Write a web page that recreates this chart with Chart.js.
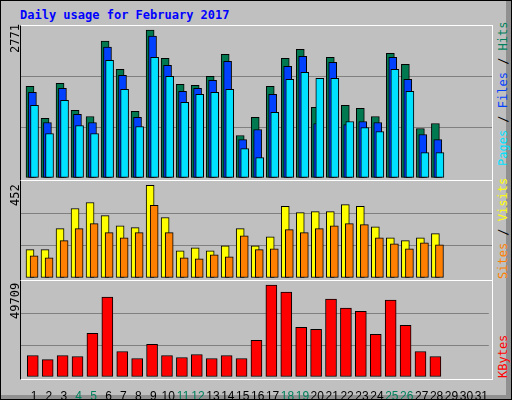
<!DOCTYPE html>
<html>
<head>
<meta charset="utf-8">
<script src="https://cdn.jsdelivr.net/npm/chart.js@4"></script>
<style>
body { margin: 0; background: #fff; }
#wrap { position: relative; width: 510px; height: 398px; background: #c0c0c0; border: 1px solid #000; overflow: hidden; font-family: "DejaVu Sans Mono", monospace; }
#shadeR { position: absolute; right: 0; top: 0; width: 5px; height: 398px; background: #909090; }
#shadeB { position: absolute; left: 0; bottom: 0; width: 510px; height: 4px; background: #909090; }
#title { position: absolute; left: 19px; top: 7px; color: #0000ff; font-weight: bold; font-size: 12px; }
canvas { position: absolute; left: 20px; }
.frame { position: absolute; left: 19px; width: 471px; border-left: 1px solid #000; border-top: 1px solid #fff; border-right: 1px solid #fff; }
.vl { position: absolute; transform: rotate(-90deg); transform-origin: left top; white-space: nowrap; font-size: 12px; }
</style>
</head>
<body>
<div id="wrap">
  <div id="shadeR"></div><div id="shadeB"></div>
  <div id="title">Daily usage for February 2017</div>
  <div class="frame" style="top:24px;height:154px"></div>
  <div class="frame" style="top:179px;height:99px"></div>
  <div class="frame" style="top:279px;height:98px;border-bottom:1px solid #fff"></div>
  <canvas id="c1" width="471" height="152" style="top:25px"></canvas>
  <canvas id="c2" width="471" height="97" style="top:180px"></canvas>
  <canvas id="c3" width="471" height="120" style="top:280px"></canvas>
  <div class="vl" style="left:7px;top:52px">2771</div>
  <div class="vl" style="left:7px;top:205px">452</div>
  <div class="vl" style="left:7px;top:318px">49709</div>
  <div class="vl" style="left:495px;top:165px"><span style="color:#00e0ff">Pages</span> / <span style="color:#0040ff">Files</span> / <span style="color:#00805c">Hits</span></div>
  <div class="vl" style="left:495px;top:278px"><span style="color:#ff8000">Sites</span> / <span style="color:#ffff00">Visits</span></div>
  <div class="vl" style="left:495px;top:377px;color:#ff0000">KBytes</div>
</div>
<script>
var days = [];
for (var d = 1; d <= 31; d++) days.push(d);
var weekendDays = [4, 5, 11, 12, 18, 19, 25, 26];

var hits = [1716, 1115, 1772, 1265, 1152, 2562, 2035, 1246, 2771, 2242, 1754, 1735, 1904, 2317, 795, 1134, 1716, 2242, 2411, 1321, 2261, 1359, 1303, 1152, 2336, 2129, 927, 1021];
var files = [1603, 1040, 1678, 1190, 1040, 2449, 1923, 1134, 2656, 2111, 1622, 1678, 1829, 2186, 720, 908, 1566, 2092, 2280, 1021, 2167, 1002, 1058, 1040, 2261, 1848, 814, 720];
var pages = [1359, 833, 1453, 983, 833, 2205, 1660, 965, 2261, 1904, 1415, 1566, 1603, 1660, 551, 382, 1228, 1848, 1979, 1866, 1866, 1058, 946, 871, 2035, 1622, 476, 476];
var visits = [138, 138, 241, 339, 368, 304, 255, 246, 452, 295, 133, 147, 133, 157, 241, 157, 201, 349, 319, 324, 324, 358, 349, 250, 196, 182, 196, 216];
var sites = [108, 98, 182, 241, 265, 221, 196, 221, 354, 221, 98, 93, 113, 103, 206, 138, 142, 236, 221, 241, 255, 265, 260, 196, 167, 142, 172, 162];
var kbytes = [11610, 9433, 11610, 11065, 23582, 43173, 13786, 9977, 17596, 11610, 10521, 12154, 9977, 11610, 9977, 19773, 49709, 45894, 26847, 25759, 42085, 37187, 35554, 23038, 41540, 27936, 13786, 11065];

var grey = '#808080';

function pts(values, shift) {
    return values.map(function (v, i) { return { x: days[i] + shift, y: v }; });
}

function ds(label, values, shift, color, order, thick) {
    return {
        label: label, data: pts(values, shift), backgroundColor: color,
        borderColor: '#000', borderWidth: 1, borderSkipped: false,
        barThickness: thick, order: order, grouped: false
    };
}

function yScale(max) {
    return {
        min: 0, max: max,
        afterBuildTicks: function (s) {
            s.ticks = [0, max / 3, 2 * max / 3, max].map(function (v) { return { value: v }; });
        },
        afterFit: function (s) { s.width = 0; },
        ticks: { display: false },
        border: { display: false },
        grid: {
            drawTicks: false, lineWidth: 1,
            color: function (c) { return (c.index === 1 || c.index === 2) ? grey : 'rgba(0,0,0,0)'; }
        }
    };
}

function xScale(showTicks) {
    return {
        type: 'linear', min: 0.13, max: 31.5, offset: false,
        display: showTicks,
        afterBuildTicks: function (s) {
            s.ticks = days.map(function (v) { return { value: v }; });
        },
        afterFit: function (s) { if (showTicks) s.height = 24; },
        border: { display: false },
        grid: { display: false },
        ticks: {
            padding: 4, autoSkip: false, maxRotation: 0,
            font: { family: 'Liberation Sans', size: 12 },
            color: function (c) { return weekendDays.indexOf(days[c.index]) >= 0 ? '#00805c' : '#000'; }
        }
    };
}

function panel(id, datasets, max, showTicks) {
    new Chart(document.getElementById(id), {
        type: 'bar',
        data: { datasets: datasets },
        options: {
            responsive: false, animation: false, devicePixelRatio: 1,
            layout: { padding: 0 },
            plugins: { legend: { display: false }, tooltip: { enabled: false } },
            scales: { x: xScale(showTicks), y: yScale(max) }
        }
    });
}

panel('c1', [
    ds('Hits', hits, -0.27, '#007850', 3, 8),
    ds('Files', files, -0.11, '#0040ff', 2, 8),
    ds('Pages', pages, 0.03, '#00e0ff', 1, 8)
], 2846, false);

panel('c2', [
    ds('Visits', visits, -0.27, '#ffff00', 2, 8),
    ds('Sites', sites, 0, '#ff8000', 1, 8)
], 473, false);

panel('c3', [
    ds('KBytes', kbytes, -0.08, '#ff0000', 1, 11)
], 51885, true);
</script>
</body>
</html>
